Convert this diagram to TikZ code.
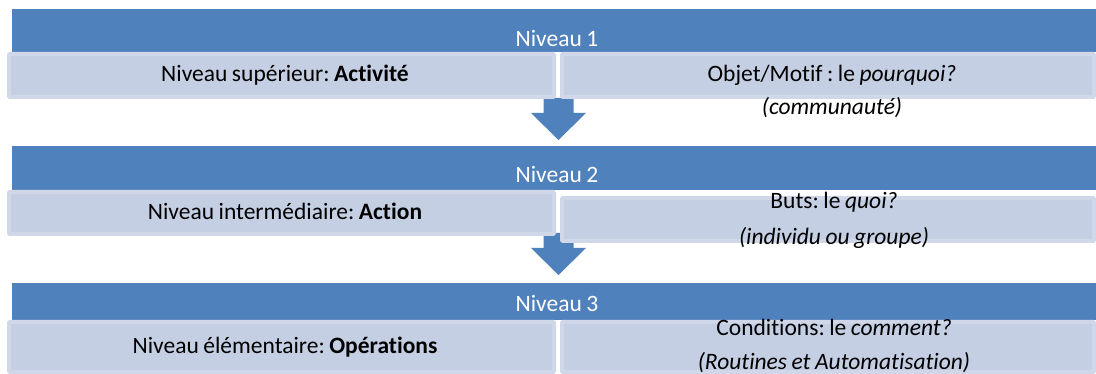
\documentclass[tikz,border=0pt]{standalone}
\usepackage{fontspec}
\setmainfont{Carlito}[Ligatures=NoCommon, WordSpace=0.85]
\frenchspacing
\usetikzlibrary{positioning, calc}
\definecolor{Bandeau}{RGB}{79, 129, 189}
\definecolor{Pale}{RGB}{197, 207, 227}
\definecolor{PaleBord}{RGB}{207, 215, 232}

\begin{document}
\begin{tikzpicture}[x=1pt, y=-1pt,
    bandeau/.style={fill=Bandeau, inner sep=0pt, minimum width=1084pt},
    boite/.style={fill=Pale, draw=PaleBord, line width=4pt, rounded corners=1pt, inner sep=0pt},
    titre/.style={anchor=base, text=white, font=\fontsize{23.5}{28}\selectfont},
    texte/.style={anchor=base, font=\fontsize{23.5}{28}\selectfont},
    fleche/.pic={\fill[Bandeau] (-15,0) -- (15,0) -- (15,15) -- (27.5,15) -- (0,42) -- (-27.5,15) -- (-15,15) -- cycle;}]
            \useasboundingbox (0,0) rectangle (1096,374);
            \clip (0,0) rectangle (1096,374);

            % bandeaux
            \node[bandeau, minimum height=43pt] (niv1) at (554,30.5) {};
            \node[bandeau, minimum height=44pt] (niv2) at (554,168) {};
            \node[bandeau, minimum height=37pt] (niv3) at (554,301.5) {};

            % fleches
            \coordinate (f1) at (558.5,98);
            \coordinate (f2) at (558.5,233);
            \pic at (f1) {fleche};
            \pic at (f2) {fleche};

            % boites
            \node[boite, minimum width=545pt, minimum height=43pt] (sup) at (281.5,75.5) {};
            \node[boite, minimum width=532pt, minimum height=43pt] (obj) at (828,75.5) {};
            \node[boite, minimum width=545pt, minimum height=42pt] (inter) at (281.5,213) {};
            \node[boite, minimum width=532pt, minimum height=43pt] (buts) at (828,219.5) {};
            \node[boite, minimum width=545pt, minimum height=50pt] (elem) at (281.5,347) {};
            \node[boite, minimum width=532pt, minimum height=50pt] (cond) at (828,347) {};

            % textes
            \node[titre] (t1) at (557,47) {Niveau 1};
            \node[texte] (sup-t) at (285,82) {Niveau supérieur: \textbf{Activité}};
            \node[texte] (obj-t) at (832,82) {Objet/Motif : le \textit{pourquoi?}};
            \node[texte] (obj-s) at (832,115) {\textit{(communauté)}};

            \node[titre] (t2) at (557,183) {Niveau 2};
            \node[texte] (inter-t) at (285,220) {Niveau intermédiaire: \textbf{Action}};
            \node[texte] (buts-t) at (834,209) {Buts: le \textit{quoi?}};
            \node[texte] (buts-s) at (834,245) {\textit{(individu ou groupe)}};

            \node[titre] (t3) at (557,312) {Niveau 3};
            \node[texte] (elem-t) at (285,353) {Niveau élémentaire: \textbf{Opérations}};
            \node[texte] (cond-t) at (834,336) {Conditions: le \textit{comment?}};
            \node[texte] (cond-s) at (834,370) {\textit{(Routines et Automatisation)}};
        \end{tikzpicture}
\end{document}
